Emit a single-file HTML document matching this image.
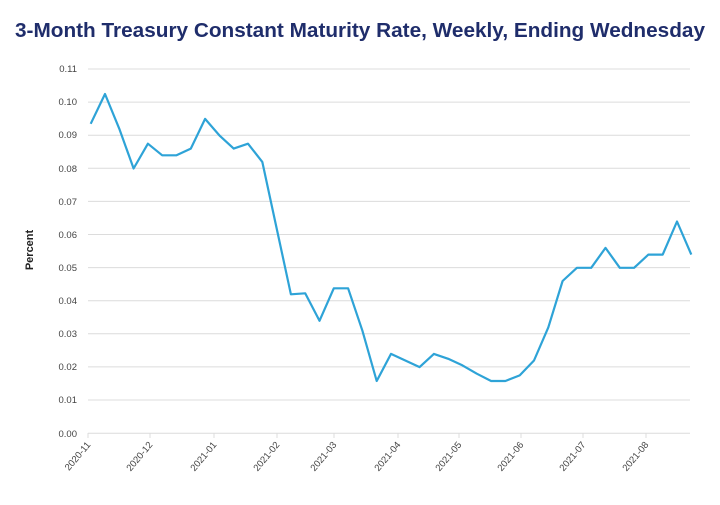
<!DOCTYPE html>
<html><head><meta charset="utf-8"><style>
body{margin:0;background:#fff;width:720px;height:500px;overflow:hidden}
</style></head><body>
<svg width="720" height="500" xmlns="http://www.w3.org/2000/svg" font-family="Liberation Sans, sans-serif">
<text x="15" y="37" textLength="690" lengthAdjust="spacingAndGlyphs" font-size="20.5" font-weight="bold" fill="#1f2d6b">3-Month Treasury Constant Maturity Rate, Weekly, Ending Wednesday</text>
<text transform="translate(33,250) rotate(-90)" text-anchor="middle" font-size="11" font-weight="bold" fill="#222">Percent</text>
<g stroke="#dcdcdc" stroke-width="1">
<line x1="88" x2="690" y1="69" y2="69"/><line x1="88" x2="690" y1="102.1" y2="102.1"/><line x1="88" x2="690" y1="135.2" y2="135.2"/><line x1="88" x2="690" y1="168.3" y2="168.3"/><line x1="88" x2="690" y1="201.4" y2="201.4"/><line x1="88" x2="690" y1="234.5" y2="234.5"/><line x1="88" x2="690" y1="267.6" y2="267.6"/><line x1="88" x2="690" y1="300.7" y2="300.7"/><line x1="88" x2="690" y1="333.8" y2="333.8"/><line x1="88" x2="690" y1="366.9" y2="366.9"/><line x1="88" x2="690" y1="400" y2="400"/><line x1="88" x2="690" y1="433.3" y2="433.3"/>
<line x1="88" x2="88" y1="433" y2="438"/><line x1="150" x2="150" y1="433" y2="438"/><line x1="214" x2="214" y1="433" y2="438"/><line x1="277" x2="277" y1="433" y2="438"/><line x1="334" x2="334" y1="433" y2="438"/><line x1="398" x2="398" y1="433" y2="438"/><line x1="459" x2="459" y1="433" y2="438"/><line x1="521" x2="521" y1="433" y2="438"/><line x1="583" x2="583" y1="433" y2="438"/><line x1="646" x2="646" y1="433" y2="438"/>
</g>
<g font-size="9.5" fill="#444" text-anchor="end">
<text x="77" y="72">0.11</text><text x="77" y="105">0.10</text><text x="77" y="138">0.09</text><text x="77" y="172">0.08</text><text x="77" y="205">0.07</text><text x="77" y="238">0.06</text><text x="77" y="271">0.05</text><text x="77" y="304">0.04</text><text x="77" y="337">0.03</text><text x="77" y="370">0.02</text><text x="77" y="403">0.01</text><text x="77" y="437">0.00</text>
<text transform="translate(91,445) rotate(-50)">2020-11</text>
<text transform="translate(153,445) rotate(-50)">2020-12</text>
<text transform="translate(217,445) rotate(-50)">2021-01</text>
<text transform="translate(280,445) rotate(-50)">2021-02</text>
<text transform="translate(337,445) rotate(-50)">2021-03</text>
<text transform="translate(401,445) rotate(-50)">2021-04</text>
<text transform="translate(462,445) rotate(-50)">2021-05</text>
<text transform="translate(524,445) rotate(-50)">2021-06</text>
<text transform="translate(586,445) rotate(-50)">2021-07</text>
<text transform="translate(649,445) rotate(-50)">2021-08</text>
</g>
<polyline fill="none" stroke="#2ea3d7" stroke-width="2.2" stroke-linejoin="round" id="ln" points=""/>
<script>
var v=[0.0935,0.1025,0.092,0.080,0.0875,0.084,0.084,0.086,0.095,0.090,0.086,0.0875,0.082,0.062,0.042,0.0423,0.034,0.0438,0.0438,0.031,0.0158,0.024,0.022,0.020,0.024,0.0225,0.0205,0.018,0.0158,0.0158,0.0175,0.022,0.032,0.046,0.050,0.050,0.056,0.050,0.050,0.054,0.054,0.064,0.054];
var p=v.map(function(a,i){return (90.7+i*14.3).toFixed(1)+","+(433.3-a*3310).toFixed(1)}).join(" ");
document.getElementById("ln").setAttribute("points",p);
</script>
</svg>
</body></html>
